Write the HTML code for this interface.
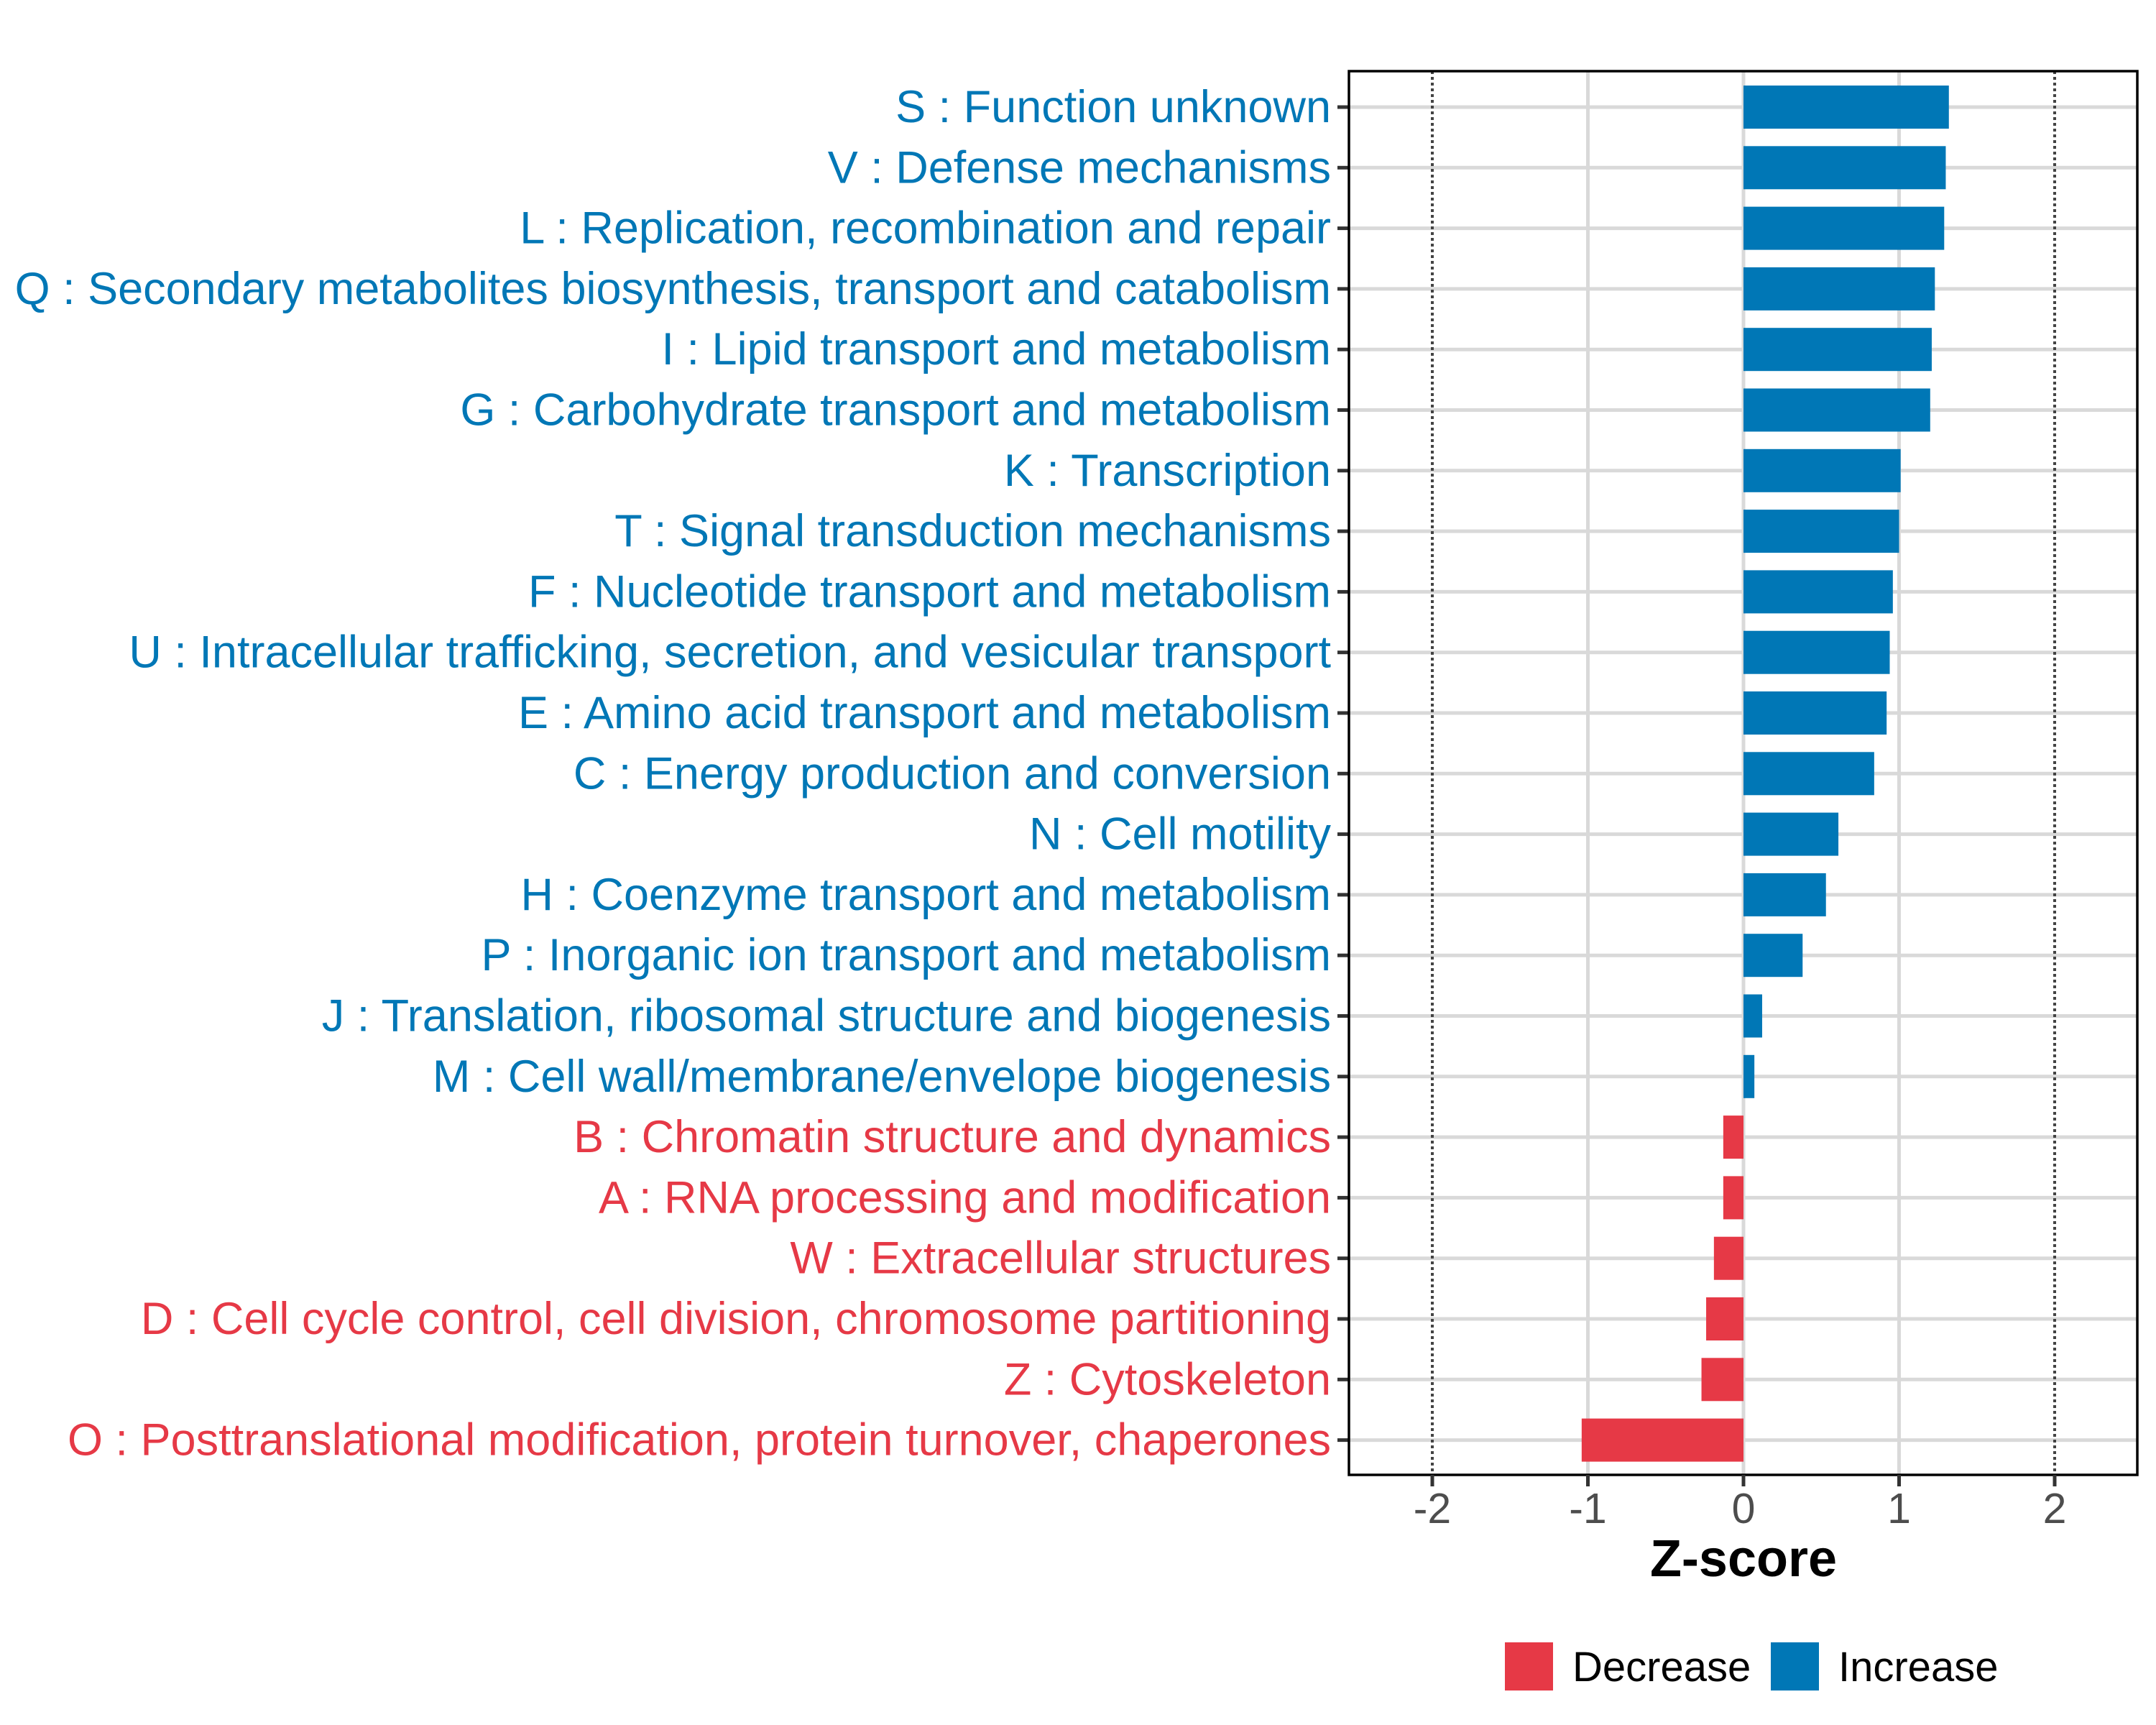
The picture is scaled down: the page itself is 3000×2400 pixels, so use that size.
<!DOCTYPE html>
<html><head><meta charset="utf-8"><style>
html,body{margin:0;padding:0;background:#fff}
svg{display:block;font-family:"Liberation Sans",Arial,sans-serif}
</style></head><body>
<svg id="chart" width="3000" height="2400" viewBox="0 0 3000 2400" xmlns="http://www.w3.org/2000/svg">
<g id="grid"></g>
<g id="bars"></g>
<g id="labels"></g>
<g id="xaxis"></g>
<text x="2426" y="2193" text-anchor="middle" font-size="72" font-weight="bold" fill="#000">Z-score</text>
<g>
<rect x="2094" y="2285" width="67" height="67" fill="#E63946"/>
<text x="2188" y="2339" font-size="58" fill="#000">Decrease</text>
<rect x="2464" y="2285" width="67" height="67" fill="#0077B6"/>
<text x="2558" y="2339" font-size="58" fill="#000">Increase</text>
</g>
</svg>
<script>
const categories = ["S : Function unknown","V : Defense mechanisms","L : Replication, recombination and repair","Q : Secondary metabolites biosynthesis, transport and catabolism","I : Lipid transport and metabolism","G : Carbohydrate transport and metabolism","K : Transcription","T : Signal transduction mechanisms","F : Nucleotide transport and metabolism","U : Intracellular trafficking, secretion, and vesicular transport","E : Amino acid transport and metabolism","C : Energy production and conversion","N : Cell motility","H : Coenzyme transport and metabolism","P : Inorganic ion transport and metabolism","J : Translation, ribosomal structure and biogenesis","M : Cell wall/membrane/envelope biogenesis","B : Chromatin structure and dynamics","A : RNA processing and modification","W : Extracellular structures","D : Cell cycle control, cell division, chromosome partitioning","Z : Cytoskeleton","O : Posttranslational modification, protein turnover, chaperones"];
const zscores = [1.32,1.30,1.29,1.23,1.21,1.20,1.01,1.00,0.96,0.94,0.92,0.84,0.61,0.53,0.38,0.12,0.07,-0.13,-0.13,-0.19,-0.24,-0.27,-1.04];
const xTicks = [-2,-1,0,1,2];
const xTickLabels = ["-2","-1","0","1","2"];
const dashedAt = [-2,2];

const NS="http://www.w3.org/2000/svg";
const L=1877,R=2974,T=99,B=2052;
const x0=2426,unit=216.5;
const xs=v=>x0+v*unit;
const yFirst=149,step=84.3;
const ys=i=>yFirst+i*step;
const BLUE="#0077B6",RED="#E63946";
function mk(tag,attrs,parent){const e=document.createElementNS(NS,tag);for(const k in attrs)e.setAttribute(k,attrs[k]);parent.appendChild(e);return e;}
const grid=document.getElementById('grid'),bars=document.getElementById('bars'),labels=document.getElementById('labels'),xaxis=document.getElementById('xaxis');
categories.forEach((c,i)=>{
  const l=mk('line',{x1:L,x2:R,y1:ys(i),y2:ys(i),stroke:'#d9d9d9','stroke-width':5},grid);
  
  
});
xTicks.forEach(v=>{
  if(dashedAt.includes(v))return;
  const l=mk('line',{x1:xs(v),x2:xs(v),y1:T,y2:B,stroke:'#d9d9d9','stroke-width':5},grid);
  
  
});
dashedAt.forEach(v=>{
  const l=mk('line',{x1:xs(v),x2:xs(v),y1:T,y2:B,stroke:'#444','stroke-width':4,'stroke-dasharray':'4 4'},grid);
  
  
});
categories.forEach((c,i)=>{
  const v=zscores[i];
  const col=v>=0?BLUE:RED;
  const r=mk('rect',{x:Math.min(xs(0),xs(v)),y:ys(i)-30,width:Math.abs(xs(v)-xs(0)),height:60,fill:col},bars);
  
  
  const t=mk('text',{x:1852,y:ys(i)+21,'text-anchor':'end','font-size':63,fill:col},labels);
  t.textContent=c;
  
  
  const tk=mk('line',{x1:L-16,x2:L,y1:ys(i),y2:ys(i),stroke:'#333','stroke-width':5},labels);
  
  
});
const frame=mk('rect',{x:L,y:T,width:R-L,height:B-T,fill:'none',stroke:'#000','stroke-width':3.5},xaxis);


xTicks.forEach((v,i)=>{
  const tk=mk('line',{x1:xs(v),x2:xs(v),y1:B,y2:B+16,stroke:'#333','stroke-width':5},xaxis);
  
  
  const t=mk('text',{x:xs(v),y:2119,'text-anchor':'middle','font-size':59,fill:'#4d4d4d'},xaxis);
  t.textContent=xTickLabels[i];
  
  
});
</script>
</body></html>
